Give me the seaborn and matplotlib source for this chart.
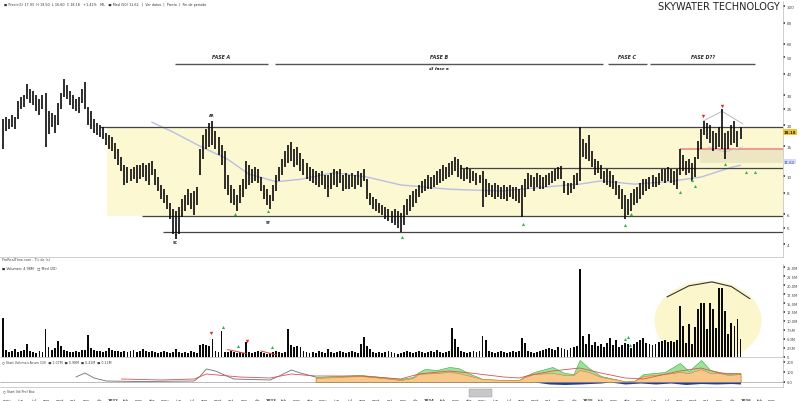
#!/usr/bin/env python3
"""
SkyWater Technology weekly chart (Wyckoff phases) recreated with seaborn/matplotlib.
"""

import numpy as np
import pandas as pd
import matplotlib
matplotlib.use('Agg')
import matplotlib.pyplot as plt
import seaborn as sns
from matplotlib.patches import Ellipse, Rectangle

START = '2021-04-23'

# weekly bars (price, USD)
high = [21.7, 22.3, 21.7, 22.9, 22.3, 27.7, 29.2, 30.0, 34.8, 32.5,
        31.7, 30.0, 28.4, 30.0, 30.8, 24.2, 23.5, 22.9, 26.9, 30.8,
        37.3, 34.3, 31.7, 30.0, 28.4, 29.2, 32.5, 35.7, 25.5, 24.2,
        21.7, 20.5, 20.0, 19.5, 18.0, 17.5, 17.0, 15.7, 14.5, 13.0,
        11.6, 11.3, 11.0, 11.3, 11.6, 11.6, 12.0, 11.6, 12.0, 12.3,
        11.0, 9.9, 8.9, 8.4, 7.8, 7.0, 6.4, 6.3, 6.6, 7.4,
        7.8, 8.4, 8.0, 8.2, 8.7, 14.5, 17.5, 18.9, 20.5, 21.1,
        18.4, 17.0, 15.3, 14.1, 10.2, 8.9, 8.4, 7.8, 8.9, 9.6,
        12.3, 11.6, 11.0, 11.3, 11.0, 9.9, 8.9, 8.4, 7.8, 8.9,
        10.2, 11.3, 12.6, 14.1, 15.3, 15.9, 14.5, 14.9, 13.7, 12.6,
        12.0, 11.3, 11.0, 10.7, 10.5, 10.7, 10.2, 10.2, 10.5, 11.0,
        10.7, 11.0, 10.2, 10.5, 10.2, 10.5, 10.2, 10.7, 10.5, 11.0,
        9.6, 8.0, 7.6, 7.4, 7.0, 6.8, 6.6, 6.4, 6.3, 6.4,
        6.3, 6.1, 6.8, 7.4, 7.8, 8.2, 8.4, 8.9, 9.4, 9.6,
        10.2, 9.9, 10.2, 10.7, 11.0, 11.6, 11.3, 12.0, 12.3, 13.0,
        12.6, 11.6, 11.0, 11.3, 11.0, 10.7, 10.5, 10.2, 10.7, 9.6,
        9.1, 8.9, 9.1, 8.9, 8.7, 8.9, 8.7, 8.9, 8.7, 8.7,
        8.4, 8.9, 9.6, 10.5, 10.2, 9.9, 10.5, 10.2, 9.9, 10.2,
        10.5, 10.7, 11.0, 11.3, 11.5, 9.4, 9.1, 9.1, 10.2, 10.5,
        19.5, 16.6, 15.7, 17.5, 14.1, 12.6, 12.3, 11.6, 10.7, 11.0,
        10.7, 10.2, 9.4, 8.9, 8.4, 7.8, 7.4, 8.0, 8.4, 8.7,
        9.1, 9.6, 9.6, 9.9, 10.2, 9.9, 10.5, 11.0, 11.0, 11.3,
        11.0, 10.7, 11.0, 14.5, 13.3, 12.3, 12.6, 12.0, 13.0, 16.1,
        18.9, 21.1, 20.5, 20.0, 18.4, 18.0, 19.5, 24.8, 18.0, 18.4,
        20.0, 21.1, 18.4, 19.5]

low = [14.5, 18.4, 18.9, 19.5, 18.9, 21.7, 24.8, 25.5, 28.4, 26.9,
       26.2, 24.2, 22.9, 24.8, 14.9, 17.7, 19.5, 18.0, 20.0, 24.8,
       29.2, 28.4, 26.2, 24.8, 24.2, 23.5, 26.9, 24.8, 20.0, 18.9,
       18.0, 17.5, 17.0, 16.6, 15.3, 14.5, 14.1, 12.6, 11.6, 10.7,
       8.9, 9.1, 9.4, 9.6, 9.1, 9.6, 9.9, 9.4, 8.9, 10.2,
       8.9, 8.2, 7.4, 7.0, 6.4, 5.6, 4.6, 4.3, 4.6, 5.8,
       6.3, 6.8, 6.4, 5.9, 6.8, 10.2, 12.6, 14.5, 14.9, 15.3,
       14.5, 13.3, 11.6, 8.4, 7.8, 7.0, 6.8, 6.3, 7.0, 7.6,
       8.4, 8.9, 9.1, 9.4, 9.1, 8.2, 7.4, 6.8, 6.4, 7.2,
       8.2, 9.4, 10.2, 11.3, 12.0, 12.3, 11.3, 11.6, 10.7, 10.2,
       9.6, 9.4, 9.1, 8.9, 8.7, 8.9, 8.4, 7.6, 8.4, 8.9,
       8.7, 9.1, 8.2, 8.4, 8.4, 8.7, 8.4, 8.9, 8.7, 9.4,
       7.4, 6.8, 6.4, 6.3, 6.1, 5.9, 5.6, 5.5, 5.3, 5.2,
       5.0, 4.7, 5.2, 5.9, 6.3, 6.6, 7.0, 7.6, 8.0, 8.2,
       8.4, 8.4, 8.7, 8.9, 9.1, 9.4, 9.6, 9.9, 10.2, 10.7,
       9.9, 9.6, 9.4, 9.6, 9.1, 9.4, 8.9, 9.1, 6.6, 7.6,
       7.8, 7.6, 7.4, 7.6, 7.4, 7.4, 7.2, 7.6, 7.4, 7.2,
       7.0, 5.8, 7.6, 8.4, 8.7, 8.2, 8.7, 8.4, 8.4, 8.7,
       8.9, 9.1, 9.4, 9.6, 9.6, 8.0, 7.8, 8.0, 8.4, 8.9,
       9.4, 13.0, 12.6, 12.3, 11.3, 10.2, 10.5, 9.6, 9.1, 8.9,
       8.7, 8.4, 7.8, 7.4, 6.4, 5.6, 5.9, 6.3, 6.8, 7.0,
       7.4, 7.8, 8.2, 8.4, 8.7, 8.7, 8.9, 9.4, 9.1, 9.4,
       9.1, 8.9, 8.4, 10.2, 10.7, 10.2, 10.5, 9.4, 9.9, 12.6,
       14.5, 17.5, 16.6, 15.7, 14.1, 14.5, 14.9, 14.5, 12.6, 14.5,
       15.3, 15.7, 14.9, 16.6]

# weekly volume (millions of shares)
volume = [10.9, 2.0, 1.4, 1.7, 2.2, 1.4, 1.7, 2.0, 3.6, 1.7,
          1.4, 1.1, 1.7, 1.4, 7.6, 2.8, 2.0, 2.5, 4.5, 3.1,
          2.0, 1.7, 1.4, 1.4, 1.7, 1.4, 2.0, 2.0, 6.2, 2.5,
          2.0, 1.7, 1.7, 1.4, 1.7, 2.5, 2.0, 1.7, 1.7, 1.4,
          1.7, 1.4, 1.7, 2.0, 1.4, 1.7, 2.2, 1.7, 1.4, 1.7,
          1.4, 1.1, 1.4, 1.7, 1.4, 1.1, 1.4, 2.2, 1.4, 1.1,
          1.4, 1.1, 1.7, 1.4, 1.1, 3.4, 3.6, 3.4, 3.1, 5.0,
          1.7, 1.4, 7.3, 1.4, 1.4, 1.7, 1.4, 1.1, 1.4, 1.1,
          4.2, 1.4, 1.1, 1.4, 1.7, 1.4, 1.1, 0.8, 1.1, 1.4,
          1.7, 1.4, 1.1, 1.4, 7.6, 3.4, 2.8, 3.1, 2.8, 1.7,
          1.4, 1.1, 1.4, 1.1, 1.7, 1.4, 1.1, 2.2, 1.4, 1.1,
          1.4, 1.7, 1.4, 1.1, 1.4, 1.7, 1.4, 1.1, 3.6, 5.6,
          3.1, 2.2, 1.4, 1.1, 1.4, 1.1, 1.4, 1.7, 1.4, 1.1,
          0.8, 1.1, 1.4, 1.7, 1.4, 1.1, 1.4, 1.7, 1.4, 1.1,
          1.4, 1.7, 1.4, 2.0, 1.4, 1.1, 1.4, 1.7, 8.1, 5.0,
          2.8, 1.7, 1.4, 1.1, 1.4, 1.7, 1.4, 1.7, 5.9, 4.8,
          1.7, 1.4, 1.1, 1.4, 1.7, 1.4, 1.1, 1.4, 1.7, 1.4,
          1.7, 5.3, 3.9, 1.7, 1.4, 1.1, 1.4, 1.7, 2.0, 2.2,
          2.5, 2.2, 2.0, 2.8, 2.5, 2.2, 2.0, 2.5, 2.8, 3.1,
          24.4, 5.9, 3.6, 6.4, 3.4, 4.2, 3.1, 3.6, 2.8, 3.9,
          5.3, 3.4, 4.8, 2.8, 3.4, 3.9, 3.6, 2.5, 3.6, 4.2,
          4.8, 5.3, 3.9, 3.6, 3.4, 3.6, 4.2, 4.5, 4.8, 4.2,
          4.5, 4.2, 4.8, 14.3, 8.7, 3.9, 9.2, 3.6, 8.4, 13.2,
          15.1, 15.1, 7.8, 15.1, 13.4, 8.1, 19.3, 19.3, 12.9, 6.4,
          9.5, 8.7, 10.6, 5.0]

# 50-period average (read at a few weeks)
ma_idx = [49, 56, 65, 74, 81, 90, 98, 109, 120, 131, 147, 164, 180, 190, 197, 208, 219, 230, 240, 243]
ma_val = [20.8, 18.2, 15.0, 12.6, 10.3, 9.3, 9.6, 10.5, 9.9, 8.9, 8.4, 8.2, 8.7, 9.0, 9.4, 9.0, 9.3, 9.9, 11.3, 11.6]

# levels of the trading range
range_top = 19.4
range_bottom = 5.87
range_low = 4.73
range_mid = 11.2
resist_red = 14.5

# indicator panel (volume oscillator)
grey_idx = [24, 27, 30, 34, 45, 63, 65, 67, 70, 76, 88, 91, 95, 98, 103]
grey_val = [50, 90, 40, 10, 5, 10, 60, 130, 110, 30, 20, 60, 120, 90, 50]
redline_idx = [39, 52, 63, 67, 78, 88, 95, 103, 118, 131, 137, 147, 154, 165, 170, 174, 181,
               190, 197, 205, 211, 223, 230, 236, 243]
redline_val = [30, 20, 30, 80, 50, 40, 80, 60, 60, 30, 80, 110, 90, 50, 40, 70, 110,
               140, 90, 40, 30, 110, 140, 90, 80]
area_idx = [103, 110, 118, 125, 131, 135, 137, 139, 143, 147, 150, 154, 158, 165, 170, 172,
            175, 181, 185, 188, 190, 193, 197, 203, 205, 208, 211, 218, 223, 226, 230, 233,
            236, 239, 243]
orange_val = [40, 50, 60, 40, 20, 40, 80, 85, 90, 100, 90, 60, 30, 20, 20, 50,
              80, 90, 70, 70, 120, 100, 50, 20, 5, 10, 60, 80, 100, 90, 130, 90,
              90, 70, 80]
green_val = [50, 60, 70, 50, 30, 50, 100, 130, 120, 150, 140, 80, 30, 20, 20, 60,
             100, 150, 90, 80, 220, 140, 60, 20, 5, 10, 80, 100, 190, 110, 220, 120,
             100, 80, 90]
blue_idx = [175, 180, 185, 190, 197, 200, 205, 210, 215, 220, 225, 230, 235, 240, 243]
blue_val = [0, -20, -25, -20, -10, 0, -20, -10, -20, -10, -25, -15, -20, -15, -20]

# phases and Wyckoff marks
phase_names = ['FASE A', 'FASE B', 'FASE C', 'FASE D??']
phase_start = [56.7, 89.6, 199.3, 213.2]
phase_end = [87.3, 197.7, 212.2, 247.8]
event_names = ['SC', 'AR', 'ST']
event_idx = [56.7, 68.9, 87.3]
event_price = [4.1, 22.9, 5.4]
green_idx = [76.4, 87.3, 131.5, 171.3, 204.9, 206.9, 223.0, 227.0, 228.0, 237.9, 244.8, 247.8]
green_price = [6.0, 6.3, 4.4, 5.25, 5.2, 6.0, 8.1, 9.5, 8.8, 11.8, 10.6, 10.6]
red_mark_idx = [230.6, 236.9]
red_mark_price = [22.6, 25.8]
vol_green_idx = [72.5, 77.4, 88.6, 204.9, 205.9, 206.6]
vol_green_val = [8.3, 3.0, 2.7, 5.0, 5.5, 3.3]
vol_red_idx = [68.5, 80.4]
vol_red_val = [6.6, 4.4]

MONTHS = ['ene', 'feb', 'mar', 'abr', 'may', 'jun', 'jul', 'ago', 'sept', 'oct', 'nov', 'dic']
XMIN, XMAX = -1.0, 257.0
BAR = '#0a0a0a'


def week_pos(date):
    """Fractional bar index of a calendar date"""
    return (pd.Timestamp(date) - pd.Timestamp(START)).days / 7.0


def draw_price(ax):
    """Price panel with the trading range"""
    idx = np.arange(len(high))
    ax.set_yscale('log')
    ax.set_ylim(3.36, 107)
    ax.set_xlim(XMIN, XMAX)

    # trading range box
    ax.fill_between([34.3, XMAX], range_bottom, range_top, color='#fcf8d2', zorder=0, lw=0)
    ax.fill_between([229.6, XMAX], 12.0, resist_red, color='#ece6c2', zorder=0.5, lw=0)
    ax.hlines(range_top, 31.9, XMAX, color='#444444', lw=0.9)
    ax.hlines(range_bottom, 45.8, XMAX, color='#444444', lw=0.9)
    ax.hlines(range_low, 52.7, XMAX, color='#444444', lw=0.9)
    ax.hlines(range_mid, 150.6, XMAX, color='#444444', lw=0.9)
    ax.hlines(resist_red, 223.0, XMAX, color='#f08a8a', lw=1.2)

    ma = pd.DataFrame({'idx': ma_idx, 'ma': ma_val})
    sns.lineplot(data=ma, x='idx', y='ma', ax=ax, color='#b9bfe3', lw=1.0, zorder=1)

    ax.vlines(idx, low, high, color=BAR, lw=1.2, zorder=3)

    # diamond around the top
    ax.plot([230.7, 236.9, 243.8], [21.1, 24.1, 20.3], color='#b0b0b0', lw=0.6)
    ax.plot([232.3, 237.9, 243.8], [14.9, 13.9, 14.9], color='#c8c8c8', lw=0.6)

    ax.scatter(green_idx, green_price, marker='^', s=5, color='#2fb34a', lw=0, zorder=4)
    ax.scatter(red_mark_idx, red_mark_price, marker='v', s=6, color='#e8262a', lw=0, zorder=4)
    for name, xi, pi in zip(event_names, event_idx, event_price):
        ax.text(xi, pi, name, fontsize=2.6, ha='center', va='center', fontweight='bold')

    for name, x0, x1 in zip(phase_names, phase_start, phase_end):
        ax.hlines(45.6, x0, x1, color='#555555', lw=1.0)
        ax.text((x0 + x1) / 2, 48.6, name, fontsize=3.4, ha='center', va='bottom',
                fontweight='bold', fontstyle='italic')
    ax.text((phase_start[1] + phase_end[1]) / 2, 44.2, 'x3 fase a', fontsize=3.0,
            ha='center', va='top', fontweight='bold', fontstyle='italic')

    ax.yaxis.tick_right()
    ticks = [4, 5, 6, 8, 10, 15, 20, 25, 30, 40, 50, 60, 80, 100]
    ax.set_yticks(ticks)
    ax.set_yticklabels([str(t) for t in ticks])
    ax.minorticks_off()
    ax.tick_params(axis='y', labelsize=3, length=1.5, pad=1, colors='#444444')
    ax.set_xticks([])
    ax.set_xlabel('')
    ax.set_ylabel('')

    ax.text(XMAX + 0.3, 18.2, '18.18', fontsize=2.8, va='center', ha='left', fontweight='bold',
            bbox=dict(boxstyle='square,pad=0.15', fc='#f2c230', ec='none'), clip_on=False)
    ax.text(XMAX + 0.3, 12.2, '11.62', fontsize=2.8, va='center', ha='left', color='#3040c0',
            bbox=dict(boxstyle='square,pad=0.15', fc='#d6dbf5', ec='none'), clip_on=False)

    ax.text(0.005, 0.997, '\u25a0 Precio(1) 17.93  H 19.50  L 16.60  C 18.18   +1.42%   ML   '
            '\u25a0 Med (50) 11.62   |  Ver datos  |  Precio  |  Fin de periodo',
            transform=ax.transAxes, fontsize=2.4, va='top', color='#333333')


def draw_volume(ax):
    """Volume panel"""
    idx = np.arange(len(volume))
    ax.set_xlim(XMIN, XMAX)
    ax.set_ylim(0, 25.9)
    ax.add_patch(Ellipse((232.3, 10.0), 35.3, 22.4, color='#fcf6cc', lw=0, zorder=0))
    ax.plot([218.8, 226.0, 233.6, 240.0, 246.1], [16.7, 19.8, 20.9, 19.6, 16.2],
            color='#333333', lw=0.8)
    ax.bar(idx, volume, width=0.62, color=BAR, lw=0, zorder=2)
    ax.plot([74, 80], [2.0, 0.9], color='#e04040', lw=0.7)
    ax.plot([85, 90], [1.6, 0.5], color='#e04040', lw=0.7)
    ax.scatter(vol_green_idx, vol_green_val, marker='^', s=5, color='#2fb34a', lw=0, zorder=4)
    ax.scatter(vol_red_idx, vol_red_val, marker='v', s=6, color='#e8262a', lw=0, zorder=4)
    ax.yaxis.tick_right()
    ticks = np.arange(0, 26, 2.5)
    ax.set_yticks(ticks)
    ax.set_yticklabels(['0'] + ['%.1fM' % t for t in ticks[1:]])
    ax.tick_params(axis='y', labelsize=2.6, length=1.5, pad=1, colors='#444444')
    ax.set_xticks([])
    ax.text(0.003, 1.03, 'ProRealTime.com - Tic de (s)', transform=ax.transAxes,
            fontsize=2.4, va='bottom', color='#444444')
    ax.text(0.003, 0.985, '\u25a0 Volumen: 4.98M   \u25a1 Med (20)', transform=ax.transAxes,
            fontsize=2.4, va='top', color='#333333')


def draw_indicator(ax):
    """Volume oscillator panel and date axis"""
    ax.set_xlim(XMIN, XMAX)
    ax.set_ylim(-50, 230)
    ax.fill_between(area_idx, 0, green_val, color='#9be39b', lw=0.4, edgecolor='#3aa83a')
    ax.fill_between(area_idx, 0, orange_val, color='#f7c88a', lw=0.4, edgecolor='#e07820')
    ax.fill_between(blue_idx, 0, blue_val, color='#1f3fa8', lw=0)
    ind = pd.DataFrame({'idx': grey_idx, 'v': grey_val})
    sns.lineplot(data=ind, x='idx', y='v', ax=ax, color='#707070', lw=0.6)
    ind_r = pd.DataFrame({'idx': redline_idx, 'v': redline_val})
    sns.lineplot(data=ind_r, x='idx', y='v', ax=ax, color='#e05050', lw=0.6)
    ax.axhline(0, color='#888888', lw=0.4)
    ax.yaxis.tick_right()
    ax.set_yticks([0, 100, 200])
    ax.set_yticklabels(['0.0', '100', '200'])
    ax.tick_params(axis='y', labelsize=2.6, length=1.5, pad=1, colors='#444444')
    ax.set_xlabel('')
    ax.set_ylabel('')
    ax.text(0.003, 0.98, '\u25cb Start Volumen Acum (10)  \u25a0 1.07M  \u25a0 0.98M  \u25a0 0.41M  '
            '\u25a0 0.12M', transform=ax.transAxes, fontsize=2.3, va='top', color='#444444')

    months = pd.date_range('2021-05-01', '2026-05-01', freq='MS')
    pos, labels = [], []
    for m in months:
        p = week_pos(m)
        if p < XMAX - 1:
            pos.append(p)
            labels.append(str(m.year) if m.month == 1 else MONTHS[m.month - 1])
    ax.set_xticks(pos)
    ax.set_xticklabels(labels)
    ax.tick_params(axis='x', labelsize=2.8, length=0, pad=8, colors='#333333')
    for lab in ax.get_xticklabels():
        if lab.get_text().isdigit():
            lab.set_fontweight('bold')


def main():
    """Build and save the figure"""
    sns.set_theme(style='white')
    plt.rcParams['font.family'] = ['DejaVu Sans']
    plt.rcParams['axes.edgecolor'] = '#bbbbbb'
    plt.rcParams['axes.linewidth'] = 0.5

    fig = plt.figure(figsize=(7.99, 4.02), dpi=100)
    W = 783 / 799
    ax_p = fig.add_axes([0, 1 - 258 / 402, W, 256 / 402])
    ax_v = fig.add_axes([0, 1 - 357.7 / 402, W, 92.7 / 402])
    ax_i = fig.add_axes([0, 1 - 388 / 402, W, 28 / 402])

    draw_price(ax_p)
    draw_volume(ax_v)
    draw_indicator(ax_i)

    for ax in (ax_p, ax_v, ax_i):
        for side in ('top', 'left'):
            ax.spines[side].set_visible(False)

    fig.text(0.976, 0.995, 'SKYWATER TECHNOLOGY', fontsize=7, ha='right', va='top', color='#222222')
    fig.text(0.004, 1 - 391 / 402, '\u25cb Start Vol Prof Box', fontsize=2.3, va='center',
             color='#444444')
    fig.patches.append(Rectangle((469 / 799, 1 - 398 / 402), 23 / 799, 8 / 402,
                                 transform=fig.transFigure, fc='#c8c8c8', ec='#999999', lw=0.3))

    fig.savefig('out.png', dpi=100)
    plt.close(fig)


if __name__ == '__main__':
    main()
